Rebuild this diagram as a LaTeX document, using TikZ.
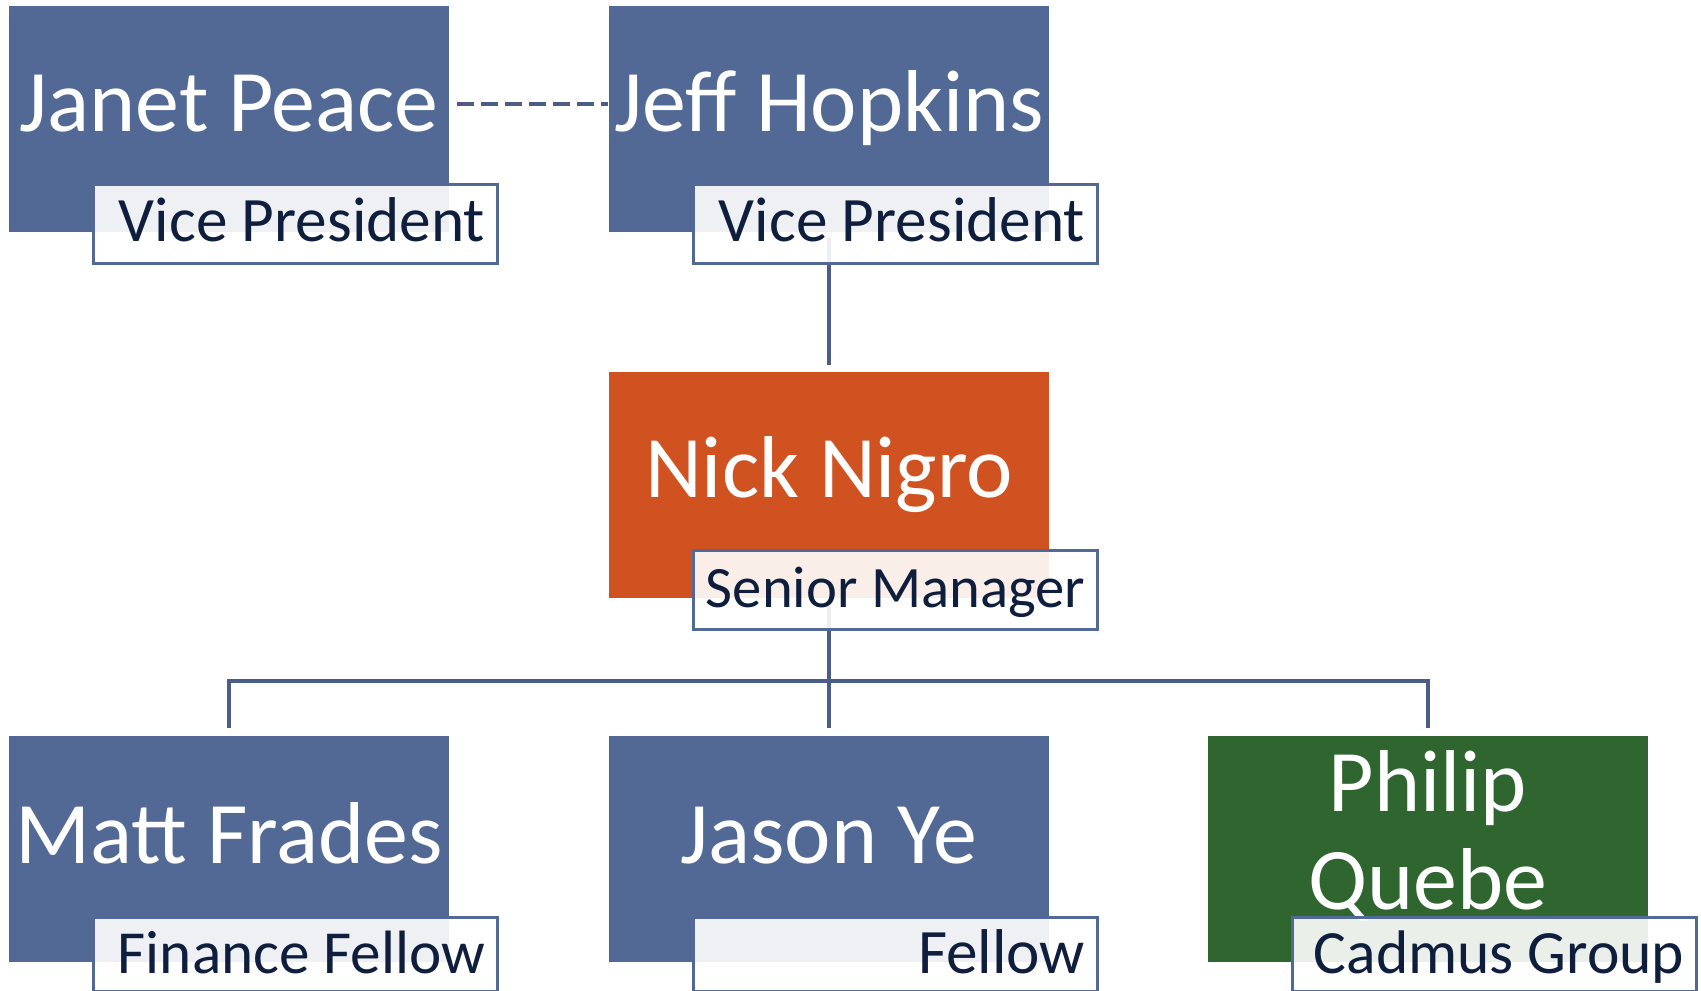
\documentclass[tikz,border=0pt]{standalone}
\usepackage{fontspec}
\setmainfont{Carlito}
\usetikzlibrary{positioning}
\definecolor{Slate}{HTML}{526996}
\definecolor{Rust}{HTML}{D05220}
\definecolor{Forest}{HTML}{2F652E}
\definecolor{Navy}{HTML}{0E1E3C}
\definecolor{Wire}{HTML}{4B5C88}
% title text sits flush right inside its tab
\newcommand{\titlebox}[1]{\makebox[3.8cm][r]{#1}}

\begin{document}
\begin{tikzpicture}[
    person/.style={minimum width=4.4cm,minimum height=2.26cm,inner sep=0pt,fill=#1},
    person/.default=Slate,
    who/.style={anchor=base,text=white,font=\fontsize{25}{28}\selectfont,align=center,inner sep=0pt},
    role/.style={draw=Slate,line width=0.9pt,fill=white,fill opacity=0.9,text opacity=1,text=Navy,
      font=\fontsize{#1}{20}\selectfont,anchor=north east,minimum width=4.04cm,minimum height=0.79cm,
      inner xsep=0.12cm,inner ysep=0pt,text height=0.57cm,text depth=0.22cm},
    role/.default=18,
    lowrole/.style={role=#1,minimum height=0.74cm,text height=0.56cm,text depth=0.18cm},
    lowrole/.default=18,
    link/.style={draw=Wire,line width=1pt}
  ]
  \useasboundingbox (0,0) rectangle (17.01,9.91);

  % boxes and names
  \node[person] (janet) at (2.29,8.72) {};
  \node[person] (jeff) at (8.29,8.72) {};
  \node[person=Rust] (nick) at (8.29,5.06) {};
  \node[person] (matt) at (2.29,1.42) {};
  \node[person] (jason) at (8.29,1.42) {};
  \node[person=Forest] (philip) at (14.28,1.42) {};

  \node[who] (janetname) at ([yshift=-0.13cm]janet.center) {Janet Peace};
  \node[who] (jeffname) at ([yshift=-0.13cm]jeff.center) {Jeff Hopkins};
  \node[who] (nickname) at ([yshift=-0.13cm]nick.center) {Nick Nigro};
  \node[who] (mattname) at ([yshift=-0.15cm]matt.center) {Matt Frades};
  \node[who] (jasonname) at ([yshift=-0.15cm]jason.center) {Jason Ye};
  \node[who,anchor=center] (philipname) at ([yshift=0.13cm]philip.center) {Philip\\Quebe};

  % reporting lines
  \draw[link,dash pattern=on 0.17cm off 0.07cm,shorten <=0.07cm] ([yshift=0.15cm]janet.east) -- ([yshift=0.15cm]jeff.west);
  \draw[link,shorten <=0.05cm,shorten >=0.06cm] (jeff.south) -- (nick.north);
  \coordinate (bus) at (8.29,3.10);
  \draw[link,shorten <=0.05cm] (nick.south) -- (bus);
  \draw[link,shorten <=0.07cm,shorten >=0.07cm] (matt.north) |- (bus) -| (philip.north);
  \draw[link,shorten >=0.07cm] (bus) -- (jason.north);

  % titles
  \node[role] (janetrole) at ([shift={(0.49,0.50)}]janet.south east) {\titlebox{Vice President}};
  \node[role] (jeffrole) at ([shift={(0.49,0.50)}]jeff.south east) {\titlebox{Vice President}};
  \node[role=16.7] (nickrole) at ([shift={(0.49,0.50)}]nick.south east) {\titlebox{Senior Manager}};
  \node[lowrole=17.4] (mattrole) at ([shift={(0.49,0.47)}]matt.south east) {\titlebox{Finance Fellow}};
  \node[lowrole] (jasonrole) at ([shift={(0.49,0.47)}]jason.south east) {\titlebox{Fellow}};
  \node[lowrole=17.5] (philiprole) at ([shift={(0.49,0.47)}]philip.south east) {\titlebox{Cadmus Group}};
\end{tikzpicture}
\end{document}
